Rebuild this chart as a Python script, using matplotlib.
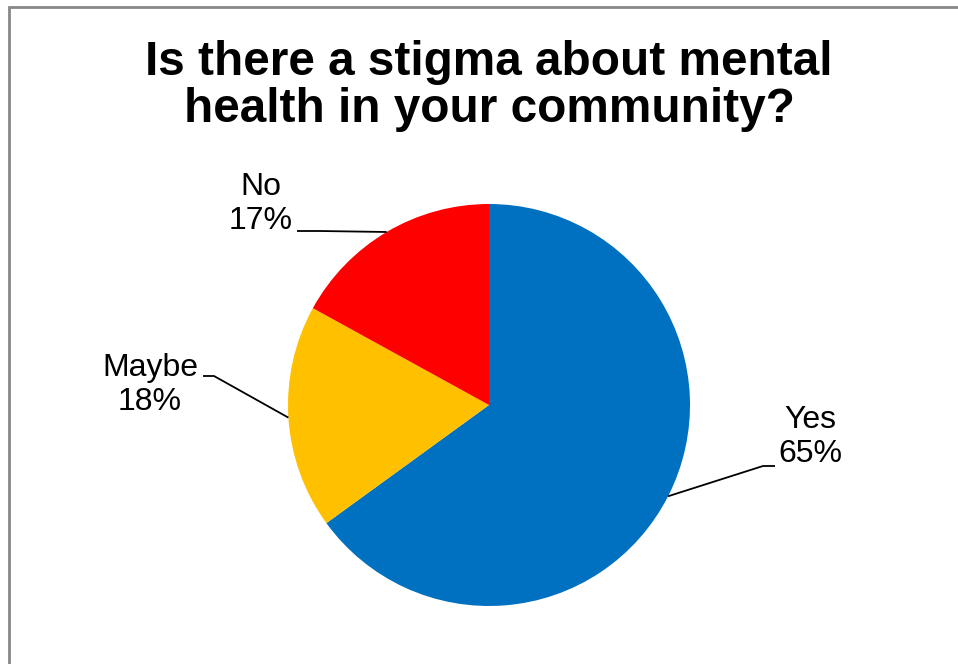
import numpy as np
import matplotlib.pyplot as plt
from matplotlib.patches import Rectangle

plt.rcParams['font.family'] = ['Liberation Sans', 'DejaVu Sans']

# respuestas de la encuesta
categorias = ['Yes', 'Maybe', 'No']
porcentajes = [65, 18, 17]
colores = ['#0070C0', '#FFC000', '#FF0000']

titulo = 'Is there a stigma about mental\nhealth in your community?'

W, H = 958, 664
fig = plt.figure(figsize=(W / 100, H / 100), dpi=100)
ax = fig.add_axes([0, 0, 1, 1])

# coordenadas en pixeles con el origen abajo a la izquierda
def yp(y):
    return H - y

# marco gris del grafico
ax.add_patch(Rectangle((9.5, -100), 1000, yp(6.5) + 100, fill=False,
                       edgecolor='#888888', lw=2))

centro = (489, yp(405))
radio = 201
wedges, _ = ax.pie(porcentajes, colors=colores, startangle=90, counterclock=False,
                   center=centro, radius=radio, frame=True)
ax.set_xlim(0, W)
ax.set_ylim(0, H)
ax.set_aspect('equal')
ax.axis('off')

# posiciones de las etiquetas: codo de la linea, fin de la linea, texto
etiquetas = {
    'Yes':   dict(codo=(763, 466), fin=(775, 466), texto=(810, 437)),
    'Maybe': dict(codo=(214, 376), fin=(203, 376), texto=(150, 385)),
    'No':    dict(codo=(320, 231), fin=(297, 231), texto=(261, 204)),
}

for w, cat, pct in zip(wedges, categorias, porcentajes):
    ang = np.deg2rad((w.theta1 + w.theta2) / 2)
    px = centro[0] + radio * np.cos(ang)
    py = centro[1] + radio * np.sin(ang)
    e = etiquetas[cat]
    ax.plot([px, e['codo'][0], e['fin'][0]], [py, yp(e['codo'][1]), yp(e['fin'][1])],
            color='black', lw=1.3, solid_capstyle='butt')
    ax.text(e['texto'][0], yp(e['texto'][1]), '%s\n%d%%' % (cat, pct),
            ha='center', va='center', fontsize=23, linespacing=1.2)

ax.text(489, yp(86), titulo, ha='center', va='center', fontsize=34.4,
        fontweight='bold', linespacing=1.05)

fig.savefig('out.png', dpi=100)
